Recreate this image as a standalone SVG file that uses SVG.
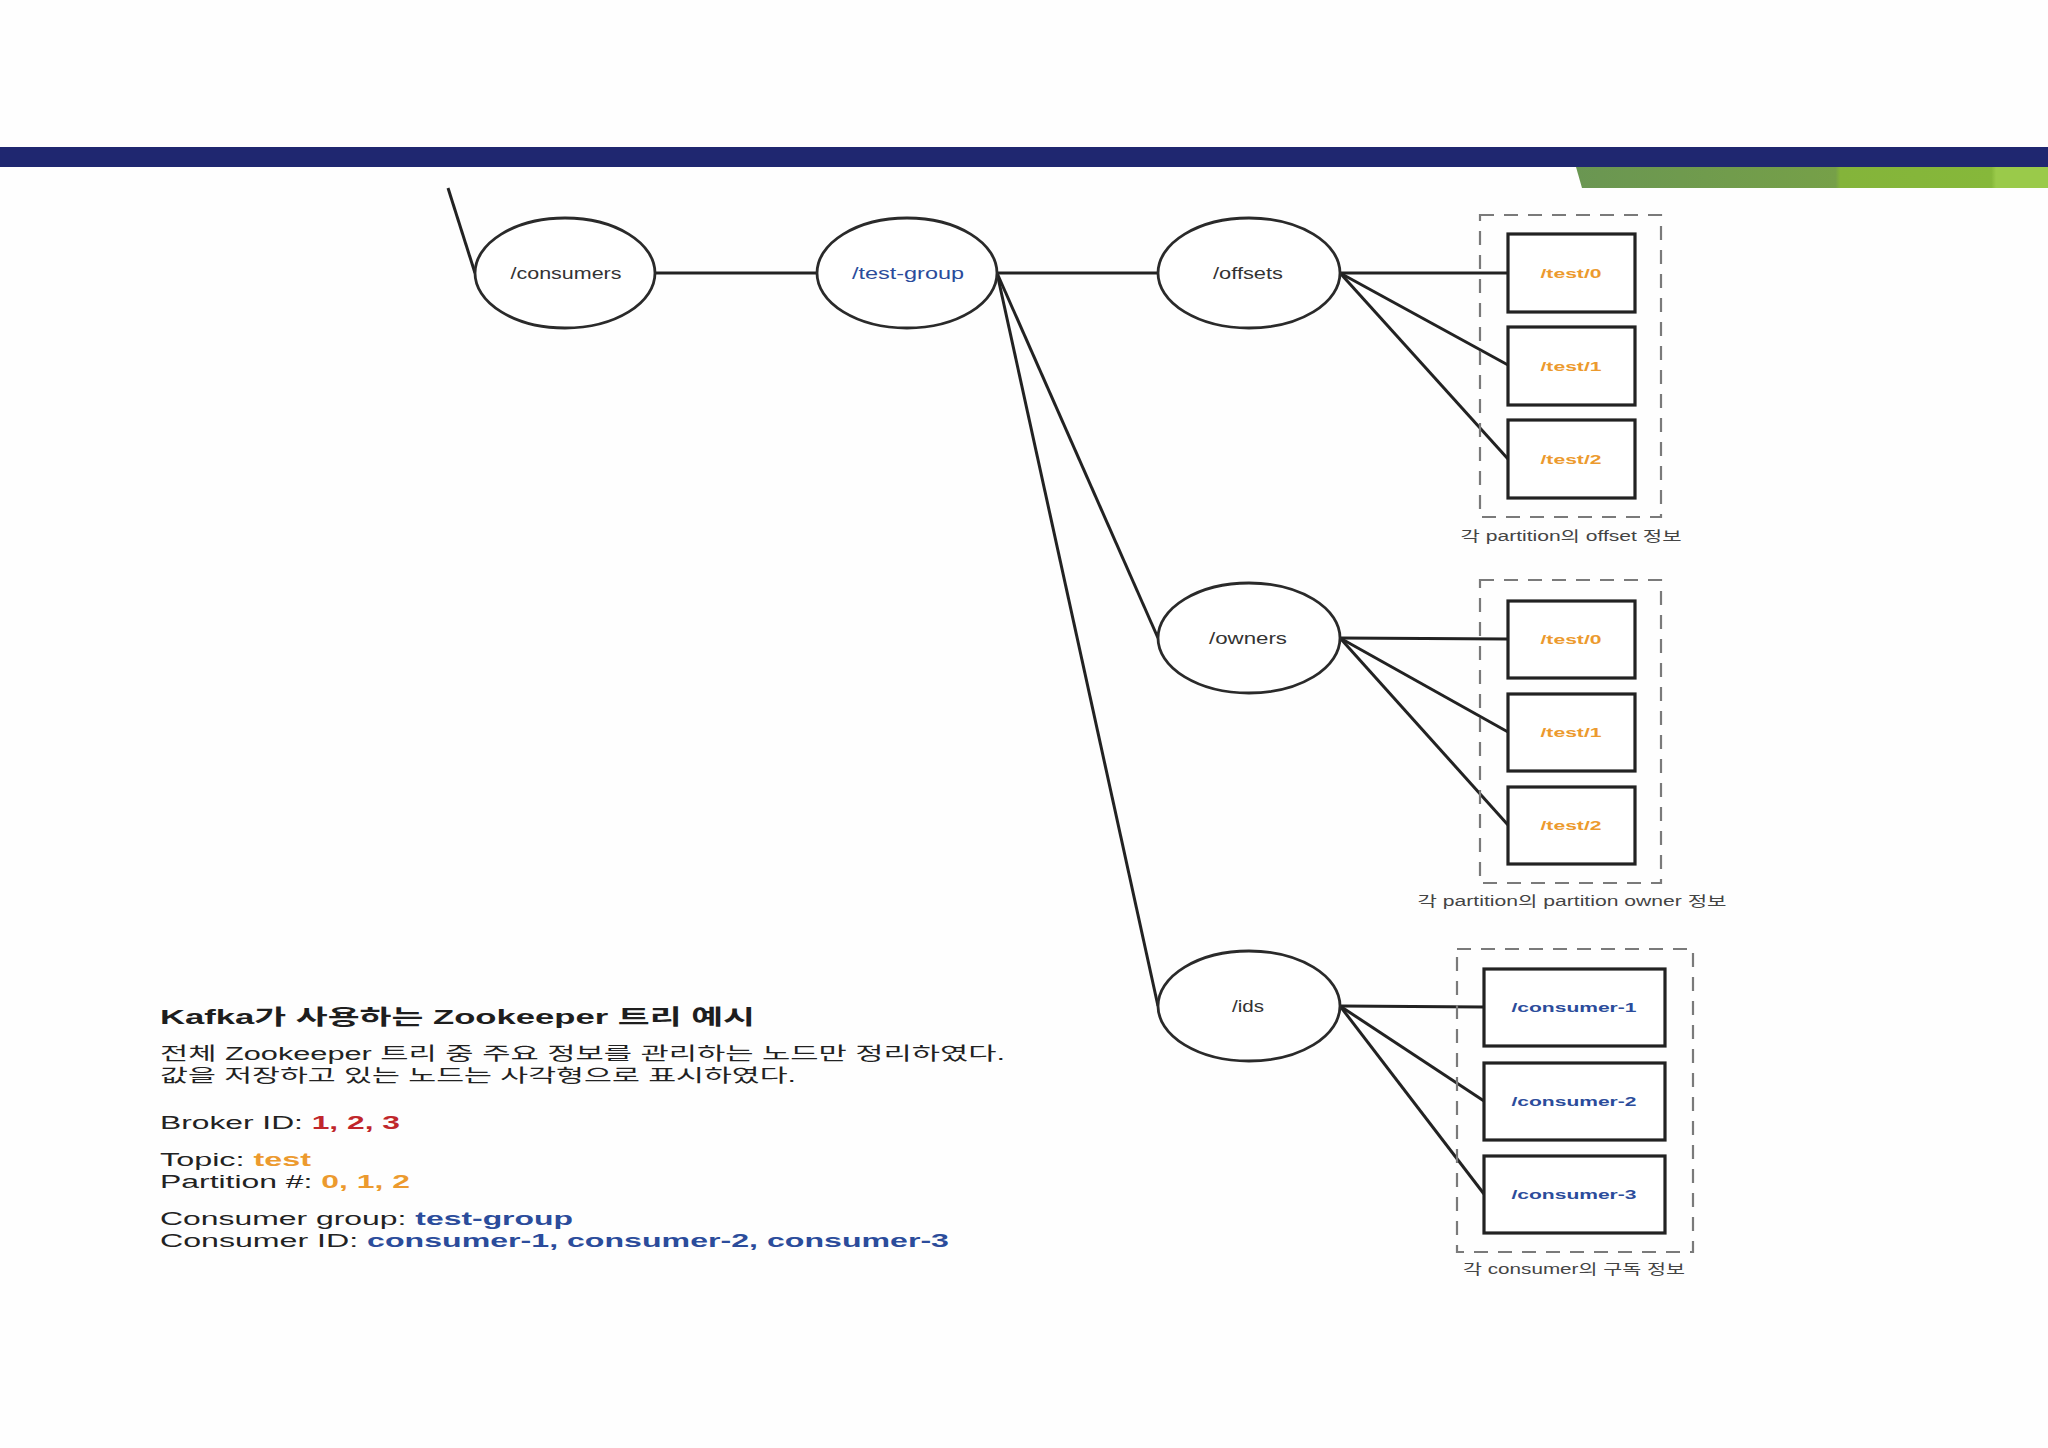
<svg xmlns="http://www.w3.org/2000/svg" width="2048" height="1448" viewBox="0 0 2048 1448">
<defs>
<linearGradient id="green" x1="0" y1="0" x2="1" y2="0">
<stop offset="0" stop-color="#6a9652"/>
<stop offset="0.55" stop-color="#76a048"/>
<stop offset="0.56" stop-color="#84b43a"/>
<stop offset="0.88" stop-color="#86b83a"/>
<stop offset="0.89" stop-color="#9aca4a"/>
<stop offset="1" stop-color="#9aca4a"/>
</linearGradient>
</defs>
<style>
.ell{fill:#ffffff;stroke:#2a2a2a;stroke-width:2.8}
.box{fill:#ffffff;stroke:#222222;stroke-width:3.2}
.grp{fill:none;stroke:#7a7a7a;stroke-width:2.2;stroke-dasharray:14 10}
.edge{stroke:#222222;stroke-width:3;fill:none}
.lbl{font-family:"Liberation Sans","Noto Sans CJK KR",sans-serif;font-size:16px;fill:#333333;text-anchor:middle}
.blue{fill:#2b4c9b}
.orange{fill:#ec9a2e}
.red{fill:#c0262b}
.vlbl{font-family:"Liberation Sans","Noto Sans CJK KR",sans-serif;font-size:13px;font-weight:bold;text-anchor:middle}
.cap{font-family:"Liberation Sans","Noto Sans CJK KR",sans-serif;font-size:14px;fill:#444444;text-anchor:middle}
.title{font-family:"Liberation Sans","Noto Sans CJK KR",sans-serif;font-size:21px;font-weight:bold;fill:#1e1e1e}
.body{font-family:"Liberation Sans","Noto Sans CJK KR",sans-serif;font-size:18px;fill:#222222}
.b{font-weight:bold}
</style>
<rect x="0" y="0" width="2048" height="1448" fill="#fefefe"/>
<g id="header">
<rect x="0" y="147" width="2048" height="20" fill="#1f2770"/>
<polygon points="1576,167 2048,167 2048,188 1582,188" fill="url(#green)"/>
</g>
<g id="connectors">
<line class="edge" x1="448" y1="188" x2="475" y2="273"/>
<line class="edge" x1="655" y1="273" x2="817" y2="273"/>
<line class="edge" x1="997" y1="273" x2="1158" y2="273"/>
<line class="edge" x1="997" y1="273" x2="1158" y2="638"/>
<line class="edge" x1="997" y1="273" x2="1158" y2="1006"/>
<line class="edge" x1="1340" y1="273" x2="1508" y2="273"/>
<line class="edge" x1="1340" y1="273" x2="1508" y2="365"/>
<line class="edge" x1="1340" y1="273" x2="1508" y2="459"/>
<line class="edge" x1="1340" y1="638" x2="1508" y2="639"/>
<line class="edge" x1="1340" y1="638" x2="1508" y2="732"/>
<line class="edge" x1="1340" y1="638" x2="1508" y2="825"/>
<line class="edge" x1="1340" y1="1006" x2="1484" y2="1007"/>
<line class="edge" x1="1340" y1="1006" x2="1484" y2="1101"/>
<line class="edge" x1="1340" y1="1006" x2="1484" y2="1194"/>
</g>
<g id="n-consumers"><ellipse class="ell" cx="565" cy="273" rx="90" ry="55"/><text class="lbl" x="566" y="279" textLength="111" lengthAdjust="spacingAndGlyphs">/consumers</text></g>
<g id="n-test-group"><ellipse class="ell" cx="907" cy="273" rx="90" ry="55"/><text class="lbl blue" x="908" y="279" textLength="112" lengthAdjust="spacingAndGlyphs">/test-group</text></g>
<g id="n-offsets"><ellipse class="ell" cx="1249" cy="273" rx="91" ry="55"/><text class="lbl" x="1248" y="279" textLength="70" lengthAdjust="spacingAndGlyphs">/offsets</text></g>
<g id="n-owners"><ellipse class="ell" cx="1249" cy="638" rx="91" ry="55"/><text class="lbl" x="1248" y="644" textLength="78" lengthAdjust="spacingAndGlyphs">/owners</text></g>
<g id="n-ids"><ellipse class="ell" cx="1249" cy="1006" rx="91" ry="55"/><text class="lbl" x="1248" y="1012" textLength="32" lengthAdjust="spacingAndGlyphs">/ids</text></g>
<g id="g-offsets">
<rect class="grp" x="1480" y="215" width="181" height="302"/>
<text class="cap" x="1571" y="541" textLength="221" lengthAdjust="spacingAndGlyphs">각 partition의 offset 정보</text>
</g>
<g id="o-test-0"><rect class="box" x="1508" y="234" width="127" height="78"/><text class="vlbl orange" x="1571" y="278" textLength="61" lengthAdjust="spacingAndGlyphs">/test/0</text></g>
<g id="o-test-1"><rect class="box" x="1508" y="327" width="127" height="78"/><text class="vlbl orange" x="1571" y="371" textLength="61" lengthAdjust="spacingAndGlyphs">/test/1</text></g>
<g id="o-test-2"><rect class="box" x="1508" y="420" width="127" height="78"/><text class="vlbl orange" x="1571" y="464" textLength="61" lengthAdjust="spacingAndGlyphs">/test/2</text></g>
<g id="g-owners">
<rect class="grp" x="1480" y="580" width="181" height="303"/>
<text class="cap" x="1572" y="906" textLength="309" lengthAdjust="spacingAndGlyphs">각 partition의 partition owner 정보</text>
</g>
<g id="w-test-0"><rect class="box" x="1508" y="601" width="127" height="77"/><text class="vlbl orange" x="1571" y="644" textLength="61" lengthAdjust="spacingAndGlyphs">/test/0</text></g>
<g id="w-test-1"><rect class="box" x="1508" y="694" width="127" height="77"/><text class="vlbl orange" x="1571" y="737" textLength="61" lengthAdjust="spacingAndGlyphs">/test/1</text></g>
<g id="w-test-2"><rect class="box" x="1508" y="787" width="127" height="77"/><text class="vlbl orange" x="1571" y="830" textLength="61" lengthAdjust="spacingAndGlyphs">/test/2</text></g>
<g id="g-ids">
<rect class="grp" x="1457" y="949" width="236" height="303"/>
<text class="cap" x="1574" y="1274" textLength="222" lengthAdjust="spacingAndGlyphs">각 consumer의 구독 정보</text>
</g>
<g id="i-consumer-1"><rect class="box" x="1484" y="969" width="181" height="77"/><text class="vlbl blue" x="1574" y="1012" textLength="125" lengthAdjust="spacingAndGlyphs">/consumer-1</text></g>
<g id="i-consumer-2"><rect class="box" x="1484" y="1063" width="181" height="77"/><text class="vlbl blue" x="1574" y="1106" textLength="125" lengthAdjust="spacingAndGlyphs">/consumer-2</text></g>
<g id="i-consumer-3"><rect class="box" x="1484" y="1156" width="181" height="77"/><text class="vlbl blue" x="1574" y="1199" textLength="125" lengthAdjust="spacingAndGlyphs">/consumer-3</text></g>
<g id="legend">
<text class="title" x="160" y="1024" textLength="595" lengthAdjust="spacingAndGlyphs">Kafka가 사용하는 Zookeeper 트리 예시</text>
<text class="body" x="160" y="1060" textLength="845" lengthAdjust="spacingAndGlyphs">전체 Zookeeper 트리 중 주요 정보를 관리하는 노드만 정리하였다.</text>
<text class="body" x="160" y="1082" textLength="636" lengthAdjust="spacingAndGlyphs">값을 저장하고 있는 노드는 사각형으로 표시하였다.</text>
<text class="body" x="160" y="1129" textLength="240" lengthAdjust="spacingAndGlyphs">Broker ID: <tspan class="b red">1, 2, 3</tspan></text>
<text class="body" x="160" y="1166" textLength="151" lengthAdjust="spacingAndGlyphs">Topic: <tspan class="b orange">test</tspan></text>
<text class="body" x="160" y="1188" textLength="250" lengthAdjust="spacingAndGlyphs">Partition #: <tspan class="b orange">0, 1, 2</tspan></text>
<text class="body" x="160" y="1225" textLength="413" lengthAdjust="spacingAndGlyphs">Consumer group: <tspan class="b blue">test-group</tspan></text>
<text class="body" x="160" y="1247" textLength="789" lengthAdjust="spacingAndGlyphs">Consumer ID: <tspan class="b blue">consumer-1, consumer-2, consumer-3</tspan></text>
</g>
</svg>
